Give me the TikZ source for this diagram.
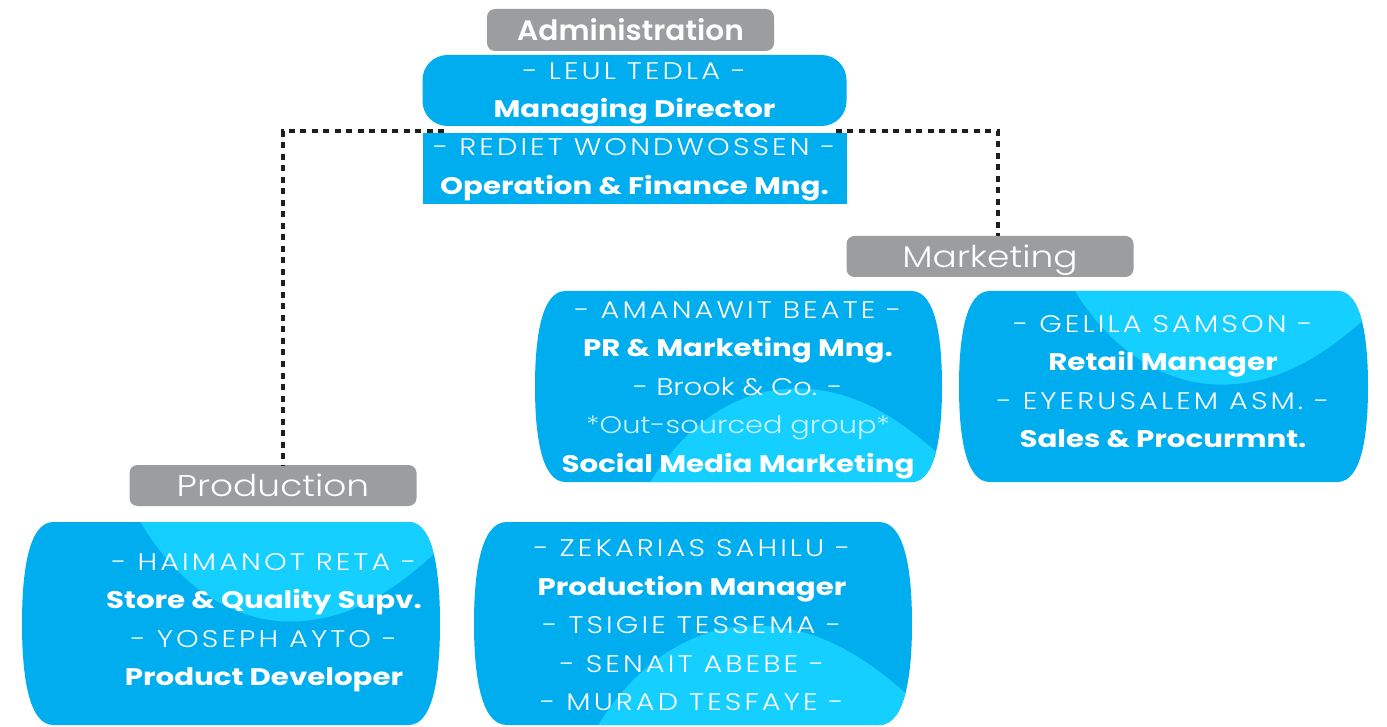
\documentclass[tikz,border=0pt]{standalone}
\usepackage{fontspec}
\setmainfont{Poppins}[FakeStretch=1.22]
\newfontfamily\adminfont{Poppins SemiBold}[FakeStretch=1.06]
\newfontfamily\lt{Poppins Light}[FakeStretch=1.2]
\newfontfamily\ltcaps{Poppins Light}[FakeStretch=1.2,LetterSpace=13]
\usetikzlibrary{calc}
\definecolor{cblue}{HTML}{00ADEE}
\definecolor{clight}{HTML}{14CFFF}
\definecolor{cgrey}{HTML}{9C9D9F}
\definecolor{cdot}{HTML}{1E1E1E}
\definecolor{cpale}{HTML}{C6F1FF}
\newcommand\barrelshape{(0.075,0) -- (0.925,0) .. controls (0.985,0) and (1,0.25) .. (1,0.5) .. controls (1,0.75) and (0.985,1) .. (0.925,1) -- (0.075,1) .. controls (0.015,1) and (0,0.75) .. (0,0.5) .. controls (0,0.25) and (0.015,0) .. (0.075,0) -- cycle}
\newcommand\lightshape{(0.27,-0.05) .. controls (0.36,0.3) and (0.5,0.49) .. (0.64,0.49) .. controls (0.8,0.49) and (0.92,0.3) .. (1.05,0.03) -- (1.05,-0.05) -- cycle}
% #1 left, #2 top, #3 width, #4 height, #5 0: light arc at top, 1: at bottom
\newcommand\drawbarrel[5]{%
  \begin{scope}[shift={(#1,#2)},xscale=#3,yscale=#4]
    \fill[cblue] \barrelshape;
    \begin{scope}
      \clip \barrelshape;
      \ifnum#5=0
        \fill[clight] \lightshape;
      \else
        \begin{scope}[shift={(0,1)},yscale=-1]
          \fill[clight] \lightshape;
        \end{scope}
      \fi
    \end{scope}
  \end{scope}}
\newcommand\nm[1]{{\ltcaps #1}}
\newcommand\rl[1]{\textbf{#1}}
\tikzset{
  txt/.style={text=white, align=center, inner sep=0pt, font=\fontsize{24}{38.5}\selectfont},
  greybox/.style={fill=cgrey, rounded corners=8pt, minimum width=287pt, minimum height=41pt, inner sep=0pt, text=white, text depth=0pt},
  bluebox/.style={fill=cblue, minimum width=424pt, minimum height=71pt, inner sep=0pt},
  dotline/.style={draw=cdot, line width=4pt, dash pattern=on 6pt off 5.5pt}
}
\begin{document}
\begin{tikzpicture}[x=1pt,y=-1pt]
\useasboundingbox (0,0) rectangle (1387,727);
% top boxes
\node[greybox, minimum height=42pt, font=\adminfont\fontsize{28}{30}\selectfont] (admin) at (630.5,30) {Administration};
\node[bluebox, rounded corners=25pt] (leul) at (634.5,90.5) {};
\node[bluebox] (rediet) at (634.5,168.5) {};
\node[txt] (leultxt) at (634.5,93.5) {\nm{- LEUL TEDLA -}\\\rl{Managing Director}};
\node[txt] (redietxt) at (634.5,170) {\nm{- REDIET WONDWOSSEN -}\\\rl{Operation \& Finance Mng.}};
% department boxes
\node[greybox, font=\lt\fontsize{30}{32}\selectfont] (mkt) at (990,256.5) {Marketing};
\node[greybox, font=\lt\fontsize{30}{32}\selectfont] (prod) at (273,485.5) {Production};
% connectors
\draw[dotline] ($(rediet.north west)+(22,-1.5)$) -| ($(prod.north)+(10,0)$);
\draw[dotline] ($(rediet.north east)+(-11,-1.5)$) -| ($(mkt.north)+(8,0)$);
% barrels
\drawbarrel{535}{291}{407}{191}{1}
\drawbarrel{959}{291}{409}{191}{0}
\drawbarrel{22}{522}{418}{203}{0}
\drawbarrel{474}{522}{438}{203}{1}
\node[txt] (amanawit) at (738,390) {\nm{- AMANAWIT BEATE -}\\\rl{PR \& Marketing Mng.}\\{\lt - Brook \& Co. -}\\\textcolor{cpale}{\lt *Out-sourced group*}\\\rl{Social Media Marketing}};
\node[txt] (gelila) at (1163,381.5) {\nm{- GELILA SAMSON -}\\\rl{Retail Manager}\\\nm{- EYERUSALEM ASM. -}\\\rl{Sales \& Procurmnt.}};
\node[txt] (haimanot) at (264,622.5) {\nm{- HAIMANOT RETA -}\\\rl{Store \& Quality Supv.}\\\nm{- YOSEPH AYTO -}\\\rl{Product Developer}};
\node[txt] (zekarias) at (692,625.5) {\nm{- ZEKARIAS SAHILU -}\\\rl{Production Manager}\\\nm{- TSIGIE TESSEMA -}\\\nm{- SENAIT ABEBE -}\\\nm{- MURAD TESFAYE -}};
\end{tikzpicture}
\end{document}
